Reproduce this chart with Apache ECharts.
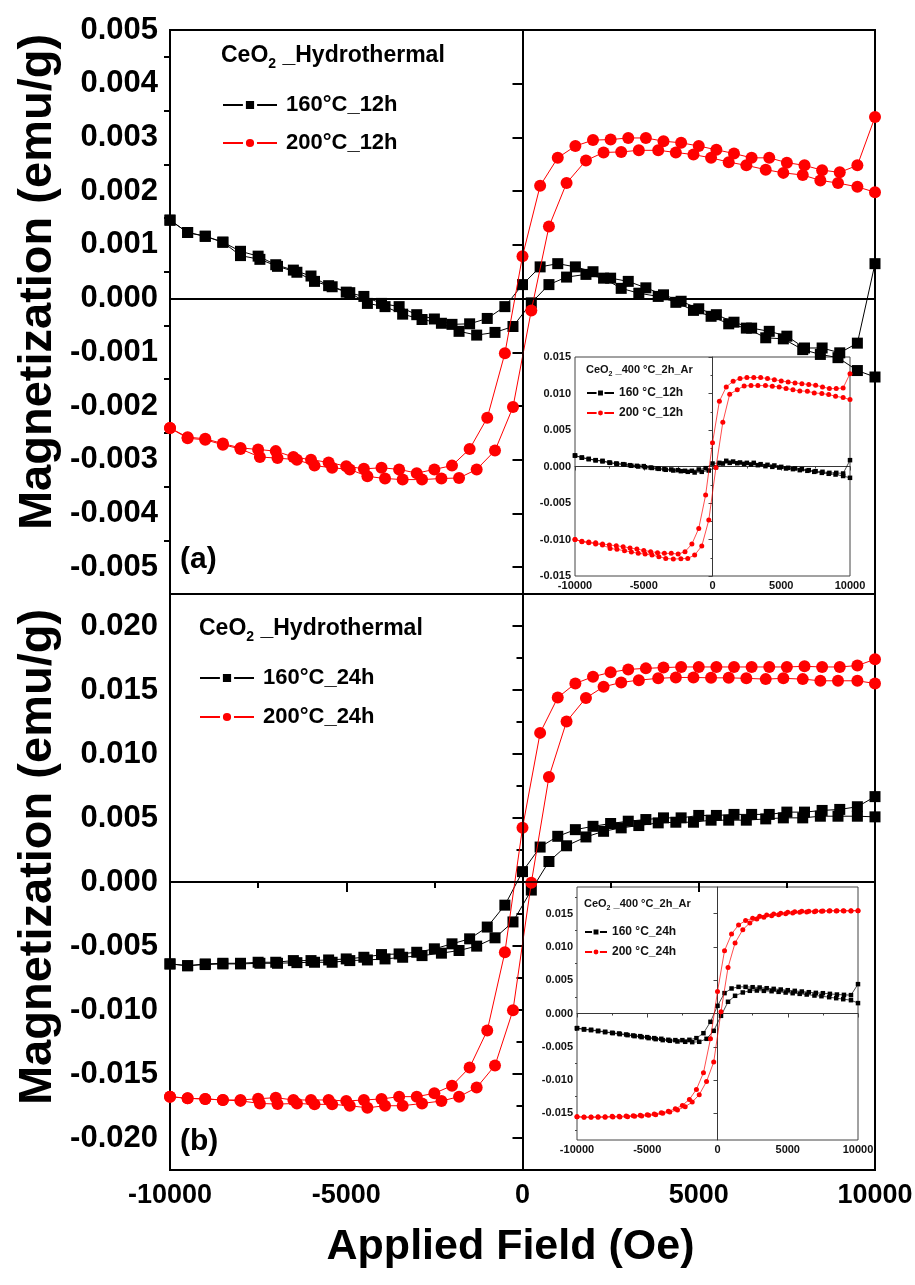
<!DOCTYPE html>
<html>
<head>
<meta charset="utf-8">
<script src="https://cdn.jsdelivr.net/npm/echarts@6.0.0/dist/echarts.min.js"></script>
<style>
  html, body { margin: 0; padding: 0; background: #fff; }
  #chart { width: 915px; height: 1285px; }
</style>
</head>
<body>
<div id="chart"></div>
<script>
// field sweep: down branch +10 kOe -> -10 kOe, up branch back to +10 kOe
const fieldDown = [10000, 9500, 9000, 8500, 8000, 7500, 7000, 6500, 6000, 5500, 5000, 4500, 4000, 3500, 3000, 2500, 2000, 1500, 1000, 500, 0,
  -500, -1000, -1500, -2000, -2500, -3000, -3500, -4000, -4500, -5000, -5500, -6000, -6500, -7000, -7500, -8000, -8500, -9000, -9500, -10000];
const fieldUp = [-10000, -9500, -9000, -8500, -8000, -7450, -6950, -6400, -5900, -5400, -4900, -4400, -3900, -3400, -2850, -2300, -1800, -1300, -780, -270,
  250, 750, 1250, 1800, 2300, 2800, 3300, 3850, 4350, 4850, 5350, 5850, 6350, 6900, 7400, 7950, 8450, 8950, 9500, 10000];

// magnetization, in 1e-3 emu/g
// (a) main
const a160Down = [0.65, -0.83, -1.01, -0.92, -0.92, -0.70, -0.61, -0.55, -0.44, -0.30, -0.19, -0.05, 0.07, 0.20, 0.32, 0.38, 0.50, 0.59, 0.65, 0.59, 0.26,
  -0.15, -0.37, -0.47, -0.48, -0.38, -0.30, -0.15, -0.09, 0.04, 0.12, 0.24, 0.42, 0.53, 0.63, 0.79, 0.88, 1.05, 1.16, 1.23, 1.46];
const a160Up = [1.46, 1.23, 1.16, 1.05, 0.80, 0.73, 0.60, 0.49, 0.32, 0.22, 0.11, -0.09, -0.15, -0.29, -0.39, -0.46, -0.61, -0.68, -0.63, -0.52,
  -0.08, 0.26, 0.40, 0.45, 0.38, 0.19, 0.10, 0.04, -0.07, -0.22, -0.33, -0.47, -0.55, -0.73, -0.75, -0.95, -1.04, -1.10, -1.34, -1.46];
const a200Down = [3.38, 2.48, 2.35, 2.39, 2.48, 2.53, 2.62, 2.62, 2.70, 2.77, 2.84, 2.90, 2.93, 2.99, 2.99, 2.96, 2.95, 2.84, 2.62, 2.10, 0.79,
  -1.02, -2.22, -2.80, -3.11, -3.18, -3.25, -3.18, -3.15, -3.17, -3.12, -3.05, -3.00, -2.95, -2.84, -2.81, -2.78, -2.70, -2.61, -2.58, -2.41];
const a200Up = [-2.41, -2.60, -2.63, -2.72, -2.80, -2.95, -2.97, -3.00, -3.11, -3.15, -3.18, -3.31, -3.35, -3.37, -3.37, -3.35, -3.34, -3.18, -2.83, -2.02,
  -0.22, 1.34, 2.15, 2.57, 2.72, 2.73, 2.76, 2.76, 2.72, 2.68, 2.62, 2.54, 2.48, 2.40, 2.34, 2.30, 2.20, 2.15, 2.08, 1.98];
// (b) main
const b160Down = [6.67, 5.88, 5.67, 5.59, 5.46, 5.46, 5.28, 5.28, 5.28, 5.20, 5.20, 5.01, 5.01, 4.88, 4.75, 4.57, 4.35, 4.09, 3.57, 2.73, 0.81,
  -1.81, -3.52, -4.44, -4.83, -5.22, -5.49, -5.62, -5.67, -5.88, -6.01, -6.09, -6.14, -6.14, -6.27, -6.27, -6.35, -6.35, -6.40, -6.54, -6.40];
const b160Up = [-6.40, -6.54, -6.45, -6.40, -6.40, -6.35, -6.35, -6.30, -6.27, -6.27, -6.14, -6.09, -6.01, -5.88, -5.75, -5.56, -5.35, -5.01, -4.36, -3.12,
  -0.63, 1.60, 2.83, 3.52, 3.96, 4.23, 4.41, 4.62, 4.67, 4.67, 4.83, 4.83, 4.83, 4.93, 5.01, 5.01, 5.14, 5.14, 5.14, 5.09];
const b200Down = [17.40, 16.91, 16.80, 16.80, 16.85, 16.80, 16.80, 16.80, 16.80, 16.80, 16.80, 16.80, 16.75, 16.69, 16.61, 16.38, 16.04, 15.51, 14.41, 11.65, 4.23,
  -5.49, -11.60, -14.49, -15.91, -16.51, -16.77, -16.77, -16.95, -17.03, -17.11, -17.03, -17.03, -17.03, -16.85, -16.93, -17.03, -17.03, -16.95, -16.90, -16.77];
const b200Up = [-16.77, -16.90, -16.95, -17.03, -17.10, -17.30, -17.35, -17.30, -17.37, -17.37, -17.48, -17.64, -17.48, -17.48, -17.30, -17.11, -16.77, -16.06, -14.33, -10.02,
  -0.05, 8.21, 12.54, 14.38, 15.25, 15.59, 15.77, 15.91, 15.98, 15.98, 15.95, 15.95, 15.91, 15.85, 15.91, 15.85, 15.72, 15.72, 15.72, 15.51];
// insets (400 °C, 2h, Ar)
const ia160Down = [0.87, -0.96, -0.87, -0.87, -0.73, -0.64, -0.50, -0.36, -0.27, -0.18, -0.05, 0.14, 0.23, 0.32, 0.50, 0.50, 0.55, 0.68, 0.78, 0.50, 0.41,
  -0.23, -0.41, -0.59, -0.59, -0.50, -0.41, -0.36, -0.27, -0.14, 0.05, 0.09, 0.18, 0.32, 0.41, 0.55, 0.78, 0.87, 1.05, 1.23, 1.50];
const ia160Up = [1.50, 1.20, 1.00, 0.85, 0.70, 0.50, 0.36, 0.27, 0.10, 0.00, -0.10, -0.20, -0.32, -0.45, -0.55, -0.64, -0.73, -0.82, -0.73, -0.55,
  -0.10, 0.40, 0.50, 0.45, 0.36, 0.27, 0.18, 0.05, -0.05, -0.14, -0.27, -0.36, -0.50, -0.59, -0.73, -0.87, -1.00, -1.10, -1.30, -1.55];
const ia200Down = [12.72, 10.76, 10.67, 10.67, 10.90, 11.13, 11.22, 11.35, 11.45, 11.58, 11.72, 11.90, 12.04, 12.18, 12.18, 12.18, 12.04, 11.67, 10.90, 8.94, 3.24,
  -3.92, -8.48, -10.62, -11.67, -11.99, -11.90, -11.90, -11.80, -11.67, -11.50, -11.31, -11.15, -10.99, -10.85, -10.75, -10.60, -10.45, -10.35, -10.25, -9.99];
const ia200Up = [-9.99, -10.31, -10.45, -10.60, -10.75, -11.22, -11.35, -11.54, -11.70, -11.90, -12.00, -12.13, -12.36, -12.59, -12.68, -12.63, -12.59, -12.13, -10.90, -7.34,
  -0.14, 6.06, 9.90, 10.53, 11.03, 11.08, 11.08, 11.08, 10.99, 10.90, 10.67, 10.53, 10.35, 10.31, 10.08, 9.99, 9.85, 9.62, 9.44, 9.17];
const ib160Down = [4.41, 2.76, 2.80, 2.85, 2.95, 3.05, 3.10, 3.20, 3.30, 3.40, 3.50, 3.60, 3.70, 3.80, 3.90, 3.95, 4.00, 4.00, 3.76, 3.06, 1.15,
  -1.25, -2.96, -3.70, -3.95, -4.00, -4.00, -3.95, -3.80, -3.70, -3.55, -3.40, -3.30, -3.15, -3.00, -2.90, -2.75, -2.60, -2.45, -2.35, -2.20];
const ib160Up = [-2.20, -2.40, -2.50, -2.65, -2.80, -2.95, -3.10, -3.25, -3.40, -3.55, -3.70, -3.85, -4.00, -4.10, -4.20, -4.25, -4.30, -4.25, -3.80, -2.60,
  -0.35, 1.76, 2.66, 3.16, 3.41, 3.45, 3.40, 3.35, 3.25, 3.15, 3.05, 2.95, 2.85, 2.70, 2.60, 2.45, 2.30, 2.15, 2.00, 1.56];
const ib200Down = [15.45, 15.40, 15.40, 15.45, 15.45, 15.40, 15.40, 15.35, 15.35, 15.30, 15.20, 15.05, 14.95, 14.80, 14.60, 14.30, 13.95, 13.30, 11.94, 9.43, 3.31,
  -3.80, -8.90, -11.40, -12.90, -13.80, -14.30, -14.70, -14.90, -15.10, -15.20, -15.30, -15.35, -15.40, -15.45, -15.45, -15.50, -15.50, -15.55, -15.55, -15.50];
const ib200Up = [-15.50, -15.60, -15.60, -15.60, -15.60, -15.55, -15.55, -15.50, -15.45, -15.40, -15.30, -15.20, -15.00, -14.80, -14.50, -14.00, -13.30, -12.20, -10.20, -7.30,
  0.25, 6.92, 10.59, 12.59, 13.60, 14.20, 14.45, 14.70, 14.85, 15.00, 15.10, 15.20, 15.25, 15.30, 15.35, 15.40, 15.40, 15.45, 15.45, 15.45];

// tick values
const ticksA = [-0.005, -0.004, -0.003, -0.002, -0.001, 0, 0.001, 0.002, 0.003, 0.004, 0.005];
const minorA = [-0.0045, -0.0035, -0.0025, -0.0015, -0.0005, 0.0005, 0.0015, 0.0025, 0.0035, 0.0045];
const ticksB = [-0.020, -0.015, -0.010, -0.005, 0, 0.005, 0.010, 0.015, 0.020];
const minorB = [-0.0225, -0.0175, -0.0125, -0.0075, -0.0025, 0.0025, 0.0075, 0.0125, 0.0175, 0.0225];
const ticksInsetB = [-0.015, -0.010, -0.005, 0, 0.005, 0.010, 0.015];
const minorInsetB = [-0.0175, -0.0125, -0.0075, -0.0025, 0.0025, 0.0075, 0.0125, 0.0175];

const SANS = "'Liberation Sans', Arial, Helvetica, sans-serif";

function loop(mDown, mUp) {
  const pts = [];
  fieldDown.forEach((h, i) => pts.push([h, mDown[i] * 1e-3]));
  fieldUp.forEach((h, i) => pts.push([h, mUp[i] * 1e-3]));
  return pts;
}

function curve(name, idx, data, red, inset) {
  return {
    name: name, type: 'line', xAxisIndex: idx.x, yAxisIndex: idx.y, data: data,
    symbol: red ? 'circle' : 'rect',
    symbolSize: inset ? (red ? 5 : 4.5) : (red ? 12 : 11),
    lineStyle: { color: red ? '#ff0000' : '#000', width: inset ? 0.7 : 1 },
    itemStyle: { color: red ? '#ff0000' : '#000' },
    emphasis: { disabled: true }, animation: false, z: red ? 4 : 3
  };
}

function zeroLines(color, width) {
  return {
    silent: true, symbol: 'none', label: { show: false }, animation: false,
    lineStyle: { color: color, width: width, type: 'solid' },
    data: [{ xAxis: 0 }, { yAxis: 0 }]
  };
}

const fmt3 = v => v.toFixed(3);
const fmtInt = v => String(v);
const mainTick = { lineStyle: { color: '#000', width: 2 } };

const chart = echarts.init(document.getElementById('chart'));

const sA160 = curve('160°C_12h', { x: 0, y: 0 }, loop(a160Down, a160Up), false, false);
sA160.markLine = zeroLines('#000', 1.5);
const sB160 = curve('160°C_24h', { x: 1, y: 2 }, loop(b160Down, b160Up), false, false);
sB160.markLine = zeroLines('#000', 1.5);
const sIA160 = curve('160 °C_12h', { x: 3, y: 4 }, loop(ia160Down, ia160Up), false, true);
sIA160.markLine = zeroLines('#333', 0.8);
const sIB160 = curve('160 °C_24h', { x: 4, y: 5 }, loop(ib160Down, ib160Up), false, true);
sIB160.markLine = zeroLines('#333', 0.8);

const richMain = {
  a: { fontFamily: SANS, fontWeight: 'bold', fontSize: 23, color: '#000', lineHeight: 30 },
  s: { fontFamily: SANS, fontWeight: 'bold', fontSize: 14, color: '#000', lineHeight: 14, verticalAlign: 'bottom' }
};
const richInset = {
  a: { fontFamily: SANS, fontWeight: 'bold', fontSize: 11, color: '#111', lineHeight: 16 },
  s: { fontFamily: SANS, fontWeight: 'bold', fontSize: 7, color: '#111', lineHeight: 8, verticalAlign: 'bottom' }
};

function legendMain(names, left, top, gap) {
  return {
    data: names, orient: 'vertical', left: left, top: top, padding: 0,
    itemWidth: 54, itemHeight: 14, itemGap: gap, selectedMode: false,
    itemStyle: { borderColor: '#fff', borderWidth: 3 },
    textStyle: { fontFamily: SANS, fontWeight: 'bold', fontSize: 22, color: '#000', lineHeight: 26, padding: [0, 0, 0, 4] }
  };
}
function legendInset(names, left, top, width) {
  return {
    data: names, orient: 'vertical', left: left, top: top, padding: 0,
    itemWidth: width, itemHeight: 8, itemGap: 6, selectedMode: false,
    itemStyle: { borderColor: '#fff', borderWidth: 1.5 },
    textStyle: { fontFamily: SANS, fontWeight: 'bold', fontSize: 12, color: '#111', lineHeight: 14 }
  };
}

function insetX(grid) {
  return {
    gridIndex: grid, type: 'value', min: -10000, max: 10000, interval: 5000,
    axisLine: { lineStyle: { color: '#444', width: 1 } },
    axisTick: { length: 4, lineStyle: { color: '#444', width: 1 } },
    minorTick: { show: true, splitNumber: 2, length: 2, lineStyle: { color: '#444' } },
    axisLabel: { formatter: fmtInt, fontFamily: SANS, fontWeight: 'bold', fontSize: 11, color: '#111', margin: 4 },
    splitLine: { show: false }
  };
}

function gridBox(left, top, width, height, color, bw, bg) {
  return { left: left, top: top, width: width, height: height, show: true, borderColor: color, borderWidth: bw,
    backgroundColor: bg, containLabel: false, outerBoundsMode: 'none' };
}

chart.setOption({
  animation: false,
  backgroundColor: '#fff',
  title: [
    { left: 221, top: 41, padding: 0, text: '{a|CeO}{s|2}{a| _Hydrothermal}', textStyle: { rich: richMain } },
    { left: 199, top: 614, padding: 0, text: '{a|CeO}{s|2}{a| _Hydrothermal}', textStyle: { rich: richMain } },
    { left: 586, top: 362, padding: 0, text: '{a|CeO}{s|2}{a| _400 °C_2h_Ar}', textStyle: { rich: richInset } },
    { left: 584, top: 896, padding: 0, text: '{a|CeO}{s|2}{a| _400 °C_2h_Ar}', textStyle: { rich: richInset } }
  ],
  legend: [
    legendMain(['160°C_12h', '200°C_12h'], 222, 92, 12),
    legendMain(['160°C_24h', '200°C_24h'], 199, 665, 13),
    legendInset(['160 °C_12h', '200 °C_12h'], 586, 386, 27),
    legendInset(['160 °C_24h', '200 °C_24h'], 584, 925, 22)
  ],
  grid: [
    gridBox(170, 30, 705, 564, '#000', 2, 'transparent'),
    gridBox(170, 594, 705, 576, '#000', 2, 'transparent'),
    gridBox(575, 357, 275, 219, '#444', 1, '#fff'),
    gridBox(577, 887, 281, 253, '#444', 1, '#fff')
  ],
  xAxis: [
    { gridIndex: 0, type: 'value', min: -10000, max: 10000, interval: 5000,
      axisLine: { lineStyle: { color: '#000', width: 2 } }, axisTick: { show: false },
      axisLabel: { show: false }, splitLine: { show: false } },
    { gridIndex: 1, type: 'value', position: 'bottom', min: -10000, max: 10000, interval: 5000,
      axisLine: { lineStyle: { color: '#000', width: 2 } },
      axisTick: Object.assign({ length: 10 }, mainTick),
      minorTick: Object.assign({ show: true, splitNumber: 2, length: 6 }, mainTick),
      axisLabel: { formatter: fmtInt, fontFamily: SANS, fontWeight: 'bold', fontSize: 27, color: '#000', margin: 12 },
      splitLine: { show: false },
      name: 'Applied Field (Oe)', nameLocation: 'middle', nameGap: 56,
      nameTextStyle: { fontFamily: SANS, fontWeight: 'bold', fontSize: 43, color: '#000', padding: [0, 24, 0, 0] } },
    { gridIndex: 1, type: 'value', position: 'top', min: -10000, max: 10000, interval: 2500,
      axisLine: { show: false }, axisTick: Object.assign({ inside: true, length: 5 }, mainTick),
      axisLabel: { show: false }, splitLine: { show: false } },
    insetX(2),
    insetX(3)
  ],
  yAxis: [
    { gridIndex: 0, type: 'value', position: 'left', min: -0.0055, max: 0.005,
      axisLine: { lineStyle: { color: '#000', width: 2 } },
      axisTick: Object.assign({ customValues: ticksA, length: 10 }, mainTick),
      axisLabel: { customValues: ticksA, formatter: fmt3, fontFamily: SANS, fontWeight: 'bold', fontSize: 31, color: '#000', margin: 12 },
      splitLine: { show: false } },
    { gridIndex: 0, type: 'value', position: 'left', min: -0.0055, max: 0.005,
      axisLine: { show: false }, axisTick: Object.assign({ customValues: minorA, length: 6 }, mainTick),
      axisLabel: { show: false }, splitLine: { show: false } },
    { gridIndex: 1, type: 'value', position: 'left', min: -0.0225, max: 0.0225,
      axisLine: { lineStyle: { color: '#000', width: 2 } },
      axisTick: Object.assign({ customValues: ticksB, length: 10 }, mainTick),
      axisLabel: { customValues: ticksB, formatter: fmt3, fontFamily: SANS, fontWeight: 'bold', fontSize: 31, color: '#000', margin: 12 },
      splitLine: { show: false } },
    { gridIndex: 1, type: 'value', position: 'left', min: -0.0225, max: 0.0225,
      axisLine: { show: false }, axisTick: Object.assign({ customValues: minorB, length: 6 }, mainTick),
      axisLabel: { show: false }, splitLine: { show: false } },
    { gridIndex: 2, type: 'value', position: 'left', min: -0.015, max: 0.015, interval: 0.005,
      axisLine: { lineStyle: { color: '#444', width: 1 } },
      axisTick: { length: 4, lineStyle: { color: '#444' } },
      minorTick: { show: true, splitNumber: 2, length: 2, lineStyle: { color: '#444' } },
      axisLabel: { formatter: fmt3, fontFamily: SANS, fontWeight: 'bold', fontSize: 11, color: '#111', margin: 4 },
      splitLine: { show: false } },
    { gridIndex: 3, type: 'value', position: 'left', min: -0.019, max: 0.019,
      axisLine: { lineStyle: { color: '#444', width: 1 } },
      axisTick: { customValues: ticksInsetB, length: 4, lineStyle: { color: '#444' } },
      axisLabel: { customValues: ticksInsetB, formatter: fmt3, fontFamily: SANS, fontWeight: 'bold', fontSize: 11, color: '#111', margin: 4 },
      splitLine: { show: false } },
    { gridIndex: 3, type: 'value', position: 'left', min: -0.019, max: 0.019,
      axisLine: { show: false }, axisTick: { customValues: minorInsetB, length: 2, lineStyle: { color: '#444' } },
      axisLabel: { show: false }, splitLine: { show: false } }
  ],
  graphic: [
    { type: 'text', x: 38, y: 282, rotation: Math.PI / 2,
      style: { text: 'Magnetization (emu/g)', font: 'bold 47px ' + SANS, fill: '#000', textAlign: 'center', textVerticalAlign: 'middle' } },
    { type: 'text', x: 38, y: 857, rotation: Math.PI / 2,
      style: { text: 'Magnetization (emu/g)', font: 'bold 47px ' + SANS, fill: '#000', textAlign: 'center', textVerticalAlign: 'middle' } },
    { type: 'text', x: 180, y: 560,
      style: { text: '(a)', font: 'bold 30px ' + SANS, fill: '#000', textAlign: 'left', textVerticalAlign: 'middle' } },
    { type: 'text', x: 180, y: 1142,
      style: { text: '(b)', font: 'bold 30px ' + SANS, fill: '#000', textAlign: 'left', textVerticalAlign: 'middle' } }
  ],
  series: [
    sA160,
    curve('200°C_12h', { x: 0, y: 0 }, loop(a200Down, a200Up), true, false),
    sB160,
    curve('200°C_24h', { x: 1, y: 2 }, loop(b200Down, b200Up), true, false),
    Object.assign(sIA160, { z: 6 }),
    Object.assign(curve('200 °C_12h', { x: 3, y: 4 }, loop(ia200Down, ia200Up), true, true), { z: 7 }),
    Object.assign(sIB160, { z: 6 }),
    Object.assign(curve('200 °C_24h', { x: 4, y: 5 }, loop(ib200Down, ib200Up), true, true), { z: 7 })
  ]
});
</script>
</body>
</html>
